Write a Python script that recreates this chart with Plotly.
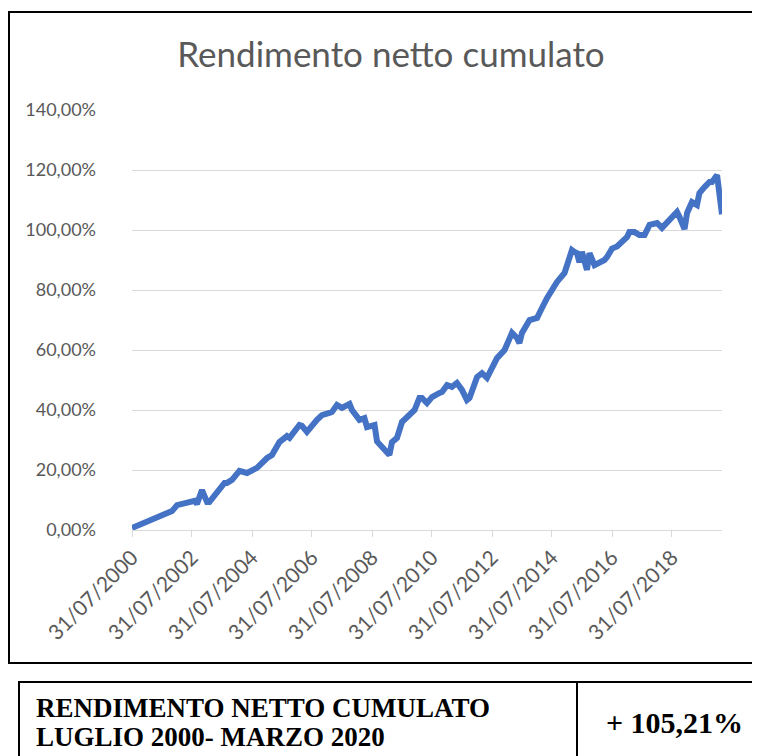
import pandas as pd
import plotly.graph_objects as go

# Month (YYYY-MM) and cumulative net return (%)
months = [
    "2000-07", "2001-11", "2002-01", "2002-08", "2002-09", "2002-11", "2003-01", "2003-02",
    "2003-08", "2003-09", "2003-11", "2004-02", "2004-05", "2004-09", "2005-01", "2005-03",
    "2005-06", "2005-09", "2005-10", "2005-12", "2006-02", "2006-03", "2006-05", "2006-09",
    "2006-11", "2007-02", "2007-03", "2007-05", "2007-07", "2007-10", "2007-11", "2008-02",
    "2008-04", "2008-05", "2008-08", "2008-09", "2008-11", "2009-02", "2009-03", "2009-05",
    "2009-07", "2009-09", "2009-11", "2009-12", "2010-02", "2010-03", "2010-05", "2010-07",
    "2010-10", "2010-11", "2011-01", "2011-03", "2011-05", "2011-07", "2011-09", "2011-10",
    "2012-01", "2012-03", "2012-05", "2012-07", "2012-09", "2012-12", "2013-03", "2013-05",
    "2013-06", "2013-07", "2013-10", "2014-01", "2014-02", "2014-03", "2014-05", "2014-07",
    "2014-09", "2014-12", "2015-01", "2015-03", "2015-04", "2015-05", "2015-06", "2015-07",
    "2015-09", "2015-10", "2015-12", "2016-02", "2016-04", "2016-05", "2016-07", "2016-09",
    "2016-11", "2017-01", "2017-02", "2017-04", "2017-06", "2017-08", "2017-10", "2018-01",
    "2018-03", "2018-05", "2018-07", "2018-09", "2018-10", "2018-12", "2019-01", "2019-03",
    "2019-05", "2019-06", "2019-08", "2019-10", "2019-11", "2020-01", "2020-03",
]
returns_pct = [
    0.7, 6.3, 8.3, 9.7, 8.7, 13.3, 9.3, 9.3,
    15.7, 15.7, 16.7, 19.7, 19.0, 20.7, 24.0, 25.0,
    29.3, 31.3, 30.7, 33.3, 35.0, 34.7, 32.7, 36.7,
    38.3, 39.0, 39.3, 41.7, 40.7, 42.0, 40.0, 36.7,
    37.3, 34.3, 35.0, 29.5, 27.7, 25.0, 29.3, 30.7,
    36.0, 37.7, 39.3, 40.0, 44.0, 44.0, 42.3, 44.3,
    45.7, 46.0, 48.3, 47.7, 49.0, 46.7, 43.3, 44.0,
    51.0, 52.3, 50.7, 54.3, 57.3, 60.0, 65.7, 64.0,
    62.3, 65.7, 70.0, 70.7, 72.7, 74.0, 77.3, 80.0,
    82.7, 85.7, 89.0, 93.3, 92.7, 92.3, 89.3, 92.7,
    86.7, 92.3, 88.3, 89.0, 90.0, 91.0, 93.8, 94.5,
    96.0, 97.7, 99.3, 99.3, 98.3, 98.3, 101.7, 102.3,
    100.7, 102.7, 104.3, 106.0, 104.3, 100.3, 105.7, 109.3,
    108.3, 112.3, 114.3, 116.0, 116.0, 118.3, 105.21,
]
tick_years = [2000, 2002, 2004, 2006, 2008, 2010, 2012, 2014, 2016, 2018]
y_ticks = [0, 20, 40, 60, 80, 100, 120, 140]

title_text = "Rendimento netto cumulato"
table_label_lines = ["RENDIMENTO NETTO CUMULATO", "LUGLIO 2000- MARZO 2020"]
table_value = "+ 105,21%"

dates = pd.to_datetime(months, format="%Y-%m") + pd.offsets.MonthEnd(0)
tickvals = [pd.Timestamp(f"{y}-07-31") for y in tick_years]
ticktext = [f"31/07/{y}" for y in tick_years]

# The page body adds an 8 px margin; work in page pixels and subtract it.
OFF = 8
W, H = 760 - OFF, 756 - OFF
L, R, T, B = 132 - OFF, 722 - OFF, 110 - OFF, 530 - OFF  # plot area (figure px)


def px(x):
    return (x - OFF - L) / (R - L)


def py(y):
    return (B - (y - OFF)) / (B - T)


fig = go.Figure()
fig.add_trace(go.Scatter(
    x=dates, y=returns_pct, mode="lines",
    line=dict(color="#4472C4", width=6, shape="linear"),
    hoverinfo="skip", showlegend=False,
))

grey = "#595959"
serif = "Liberation Serif, Times New Roman, serif"
fig.update_layout(
    width=W, height=H,
    margin=dict(l=L, r=W - R, t=T, b=H - B, autoexpand=False),
    paper_bgcolor="white", plot_bgcolor="white",
    font=dict(family="Lato, Carlito, sans-serif", color=grey),
    title=dict(text=title_text, x=px(391), xref="paper", xanchor="center",
               y=1 - (55 - OFF) / H, yanchor="middle",
               font=dict(size=35, color=grey, family="Lato, sans-serif")),
    xaxis=dict(
        range=[dates[0], dates[-1]],
        tickvals=tickvals, ticktext=ticktext, tickangle=-45,
        tickfont=dict(size=21, color=grey),
        showgrid=False, showline=True, linecolor="#D9D9D9", linewidth=1,
        ticks="outside", ticklen=6, tickcolor="#D9D9D9", zeroline=False,
    ),
    yaxis=dict(
        range=[0, 140], tickvals=y_ticks,
        ticktext=[f"{v},00%" for v in y_ticks],
        tickfont=dict(size=18, color=grey),
        showgrid=True, gridcolor="#D9D9D9", gridwidth=1,
        zeroline=False, showline=False, ticks="", ticklabelstandoff=35,
    ),
    shapes=[
        # outer chart border
        dict(type="rect", xref="paper", yref="paper",
             x0=px(9), x1=px(757), y0=py(663), y1=py(12),
             line=dict(color="black", width=2), layer="below"),
        # table
        dict(type="rect", xref="paper", yref="paper",
             x0=px(19), x1=px(770), y0=py(780), y1=py(682),
             line=dict(color="black", width=2)),
        dict(type="line", xref="paper", yref="paper",
             x0=px(577), x1=px(577), y0=py(780), y1=py(682),
             line=dict(color="black", width=2)),
    ],
    annotations=[
        dict(text=table_label_lines[0], xref="paper", yref="paper",
             x=px(34), y=py(708), xanchor="left", yanchor="middle",
             showarrow=False,
             font=dict(family=serif, size=27, color="black", weight="bold")),
        dict(text=table_label_lines[1], xref="paper", yref="paper",
             x=px(34), y=py(737), xanchor="left", yanchor="middle",
             showarrow=False,
             font=dict(family=serif, size=27, color="black", weight="bold")),
        dict(text=table_value, xref="paper", yref="paper",
             x=px(674), y=py(722), xanchor="center", yanchor="middle",
             showarrow=False,
             font=dict(family=serif, size=30, color="black", weight="bold")),
    ],
)

fig.write_html("out.html")
